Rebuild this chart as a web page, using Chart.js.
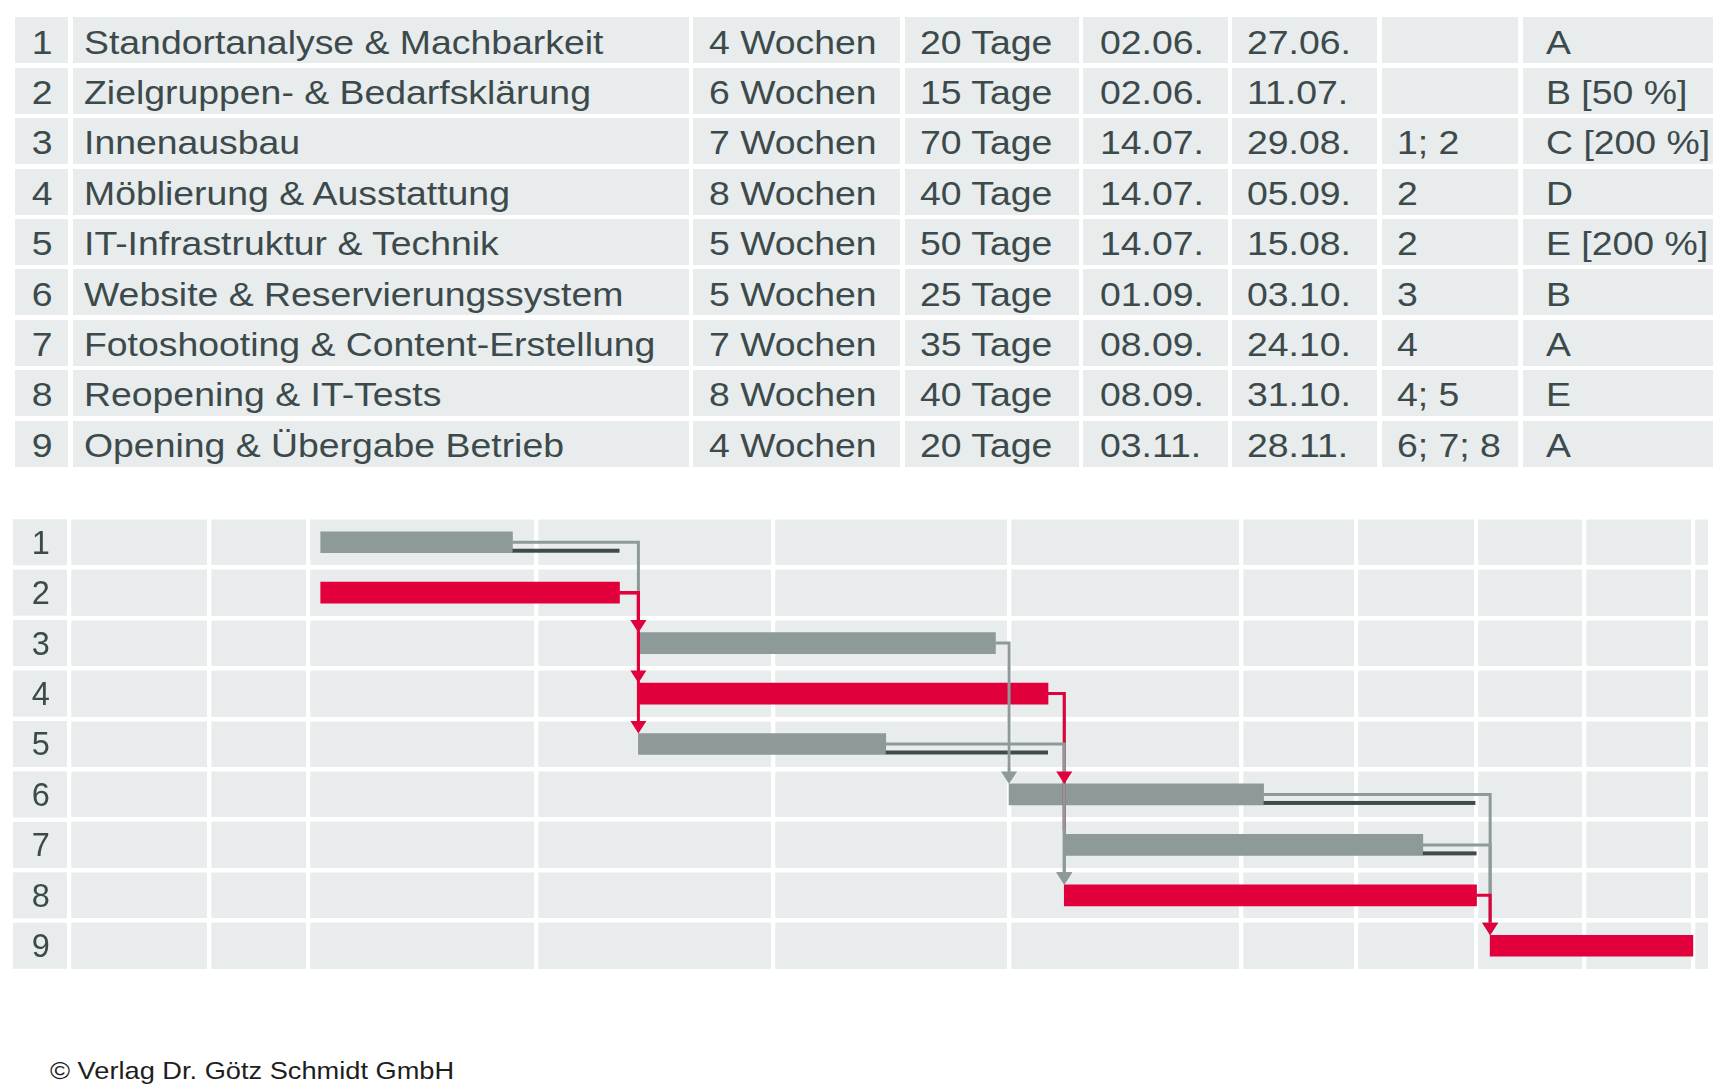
<!DOCTYPE html>
<html lang="de">
<head>
<meta charset="utf-8">
<title>Projektplan</title>
<script src="https://cdn.jsdelivr.net/npm/chart.js@4.4.1/dist/chart.umd.min.js"></script>
<style>
    html, body { margin: 0; padding: 0; background: #fff; }
    body { width: 1726px; height: 1085px; position: relative; overflow: hidden; font-family: "Liberation Sans", Arial, sans-serif; color: #3d4a4c; }
    .cell { position: absolute; height: 46px; background: #e8ecec; font-size: 32.5px; line-height: 46px; white-space: nowrap; box-sizing: border-box; }
    .cell span { display: inline-block; position: relative; top: 2.4px; transform: scaleX(1.15); transform-origin: 0 50%; }
    .cell.c { text-align: center; }
    .cell.c span { transform-origin: 50% 50%; }
    #gantt { position: absolute; left: 13px; top: 517px; }
    #copy { position: absolute; left: 50.4px; top: 1059px; font-size: 24.2px; line-height: 24px; white-space: nowrap; color: #1e1e1e; }
    #copy span { display: inline-block; transform: scaleX(1.125); transform-origin: 0 50%; }
</style>
</head>
<body>
<div id="table"></div>
<canvas id="gantt" width="1695" height="454"></canvas>
<div id="copy"><span>© Verlag Dr. Götz Schmidt GmbH</span></div>
<script>
// Table data
const taskNo = ["1", "2", "3", "4", "5", "6", "7", "8", "9"];
const taskNames = [
    "Standortanalyse & Machbarkeit",
    "Zielgruppen- & Bedarfsklärung",
    "Innenausbau",
    "Möblierung & Ausstattung",
    "IT-Infrastruktur & Technik",
    "Website & Reservierungssystem",
    "Fotoshooting & Content-Erstellung",
    "Reopening & IT-Tests",
    "Opening & Übergabe Betrieb"
];
const durWeeks = ["4 Wochen", "6 Wochen", "7 Wochen", "8 Wochen", "5 Wochen", "5 Wochen", "7 Wochen", "8 Wochen", "4 Wochen"];
const durDays = ["20 Tage", "15 Tage", "70 Tage", "40 Tage", "50 Tage", "25 Tage", "35 Tage", "40 Tage", "20 Tage"];
const startDates = ["02.06.", "02.06.", "14.07.", "14.07.", "14.07.", "01.09.", "08.09.", "08.09.", "03.11."];
const endDates = ["27.06.", "11.07.", "29.08.", "05.09.", "15.08.", "03.10.", "24.10.", "31.10.", "28.11."];
const preds = ["", "", "1; 2", "2", "2", "3", "4", "4; 5", "6; 7; 8"];
const resources = ["A", "B [50 %]", "C [200 %]", "D", "E [200 %]", "B", "A", "E", "A"];

// Gantt data, in days counted from 01.06.
const barStart = [1.0, 1.0, 43.0, 43.0, 43.0, 92.0, 99.3, 99.3, 155.6];
const barEnd = [26.35, 40.5, 90.2, 97.15, 75.7, 125.65, 146.7, 153.8, 182.4];
const critical = [0, 1, 0, 1, 0, 0, 0, 1, 1];
const slackEnd = [40.5, null, null, null, 97.15, 153.65, 153.8, null, null];
const gridDays = [-32.3, -13.7, -0.6, 29.5, 60.8, 92.0, 122.7, 137.9, 153.8, 168.0, 182.5];
const axisMin = -32.3, axisMax = 184.4;
// [from, to, critical, row with the arrow head]
const links = [
    [1, 3, 0, 3], [2, 3, 1, 3], [2, 4, 1, 4], [2, 5, 1, 5],
    [3, 6, 0, 6], [4, 8, 0, 8], [4, 7, 1, 6], [5, 8, 0, 8],
    [6, 9, 0, 9], [7, 9, 0, 9], [8, 9, 1, 9]
];

const red = "#e1003b", gray = "#8e9999", dark = "#3f4a4b", cellBg = "#e8ecec", textColor = "#3d4a4c";

// Build the table
const cols = [
    { left: 15.4, width: 53, pad: 0, center: true, values: taskNo },
    { left: 72.7, width: 616, pad: 11, values: taskNames },
    { left: 693, width: 207, pad: 16, values: durWeeks },
    { left: 905, width: 174, pad: 14.5, values: durDays },
    { left: 1083, width: 144.5, pad: 16.5, values: startDates },
    { left: 1231.7, width: 145.5, pad: 15.3, values: endDates },
    { left: 1381.5, width: 136.5, pad: 15.5, values: preds },
    { left: 1522.6, width: 190.4, pad: 23, values: resources }
];
const table = document.getElementById("table");
for (let r = 0; r < taskNo.length; r++) {
    for (const col of cols) {
        const cell = document.createElement("div");
        cell.className = "cell" + (col.center ? " c" : "");
        cell.style.left = col.left + "px";
        cell.style.width = col.width + "px";
        cell.style.top = (17.3 + r * 50.4) + "px";
        cell.style.paddingLeft = col.pad + "px";
        const span = document.createElement("span");
        span.textContent = col.values[r];
        cell.appendChild(span);
        table.appendChild(cell);
    }
}

// Gantt decorations: cell backgrounds, slack lines, links and arrow heads
const barH = 21;
const ganttDecor = {
    id: "ganttDecor",
    beforeDraw(chart) {
        const { ctx, chartArea: a, scales: { y } } = chart;
        const band = y.getPixelForValue(1) - y.getPixelForValue(0);
        ctx.save();
        ctx.fillStyle = cellBg;
        ctx.fillRect(a.left, a.top, a.right - a.left, a.bottom - a.top);
        for (let i = 0; i < taskNo.length; i++) {
            const yc = y.getPixelForValue(i);
            ctx.fillRect(0, yc - band / 2 + 2.2, a.left, band - 4.4);
        }
        ctx.restore();
    },
    afterDatasetsDraw(chart) {
        const { ctx, scales: { x, y } } = chart;
        const half = barH / 2;
        ctx.save();

        // Slack lines under the bars
        ctx.fillStyle = dark;
        slackEnd.forEach((v, i) => {
            if (v === null) return;
            const x0 = x.getPixelForValue(barEnd[i]), x1 = x.getPixelForValue(v);
            ctx.fillRect(x0, y.getPixelForValue(i) + half - 4, x1 - x0, 4);
        });

        // Link lines
        ctx.lineWidth = 3;
        for (const [f, t, c] of links) {
            const xs = x.getPixelForValue(barEnd[f - 1]), xt = x.getPixelForValue(barStart[t - 1]);
            const ys = y.getPixelForValue(f - 1), yt = y.getPixelForValue(t - 1) - half - 4;
            ctx.strokeStyle = c ? red : gray;
            ctx.beginPath();
            ctx.moveTo(xs, ys);
            ctx.lineTo(xt, ys);
            ctx.lineTo(xt, yt);
            ctx.stroke();
        }

        // Arrow heads on top
        for (const [f, t, c, r] of links) {
            const xt = x.getPixelForValue(barStart[t - 1]);
            const tip = y.getPixelForValue(r - 1) - half;
            ctx.fillStyle = c ? red : gray;
            ctx.beginPath();
            ctx.moveTo(xt - 8, tip - 12.5);
            ctx.lineTo(xt + 8, tip - 12.5);
            ctx.lineTo(xt, tip);
            ctx.closePath();
            ctx.fill();
        }
        ctx.restore();
    }
};

new Chart(document.getElementById("gantt"), {
    type: "bar",
    data: {
        labels: taskNo,
        datasets: [{
            data: barStart.map((s, i) => [s, barEnd[i]]),
            backgroundColor: critical.map(c => c ? red : gray),
            borderWidth: 0,
            borderSkipped: false,
            barThickness: barH
        }]
    },
    options: {
        indexAxis: "y",
        responsive: false,
        maintainAspectRatio: false,
        animation: false,
        events: [],
        layout: { padding: 0, autoPadding: false },
        plugins: { legend: { display: false }, tooltip: { enabled: false } },
        scales: {
            x: {
                type: "linear",
                min: axisMin,
                max: axisMax,
                afterBuildTicks: s => { s.ticks = gridDays.map(v => ({ value: v })); },
                afterFit: s => { s.height = 0; s.paddingLeft = 0; s.paddingRight = 0; },
                ticks: { display: false },
                grid: { color: "#fff", lineWidth: 4.4, drawTicks: false },
                border: { display: false }
            },
            y: {
                type: "category",
                offset: true,
                // keep the rows filling the whole canvas height
                afterFit: s => { s.width = 55.8; s.paddingTop = 0; s.paddingBottom = 0; },
                grid: { offset: true, color: "#fff", lineWidth: 4.4, drawTicks: false },
                border: { display: false },
                ticks: { color: textColor, font: { family: "Liberation Sans", size: 32.5 }, padding: 19, labelOffset: 2.5 }
            }
        }
    },
    plugins: [ganttDecor]
});
</script>
</body>
</html>
